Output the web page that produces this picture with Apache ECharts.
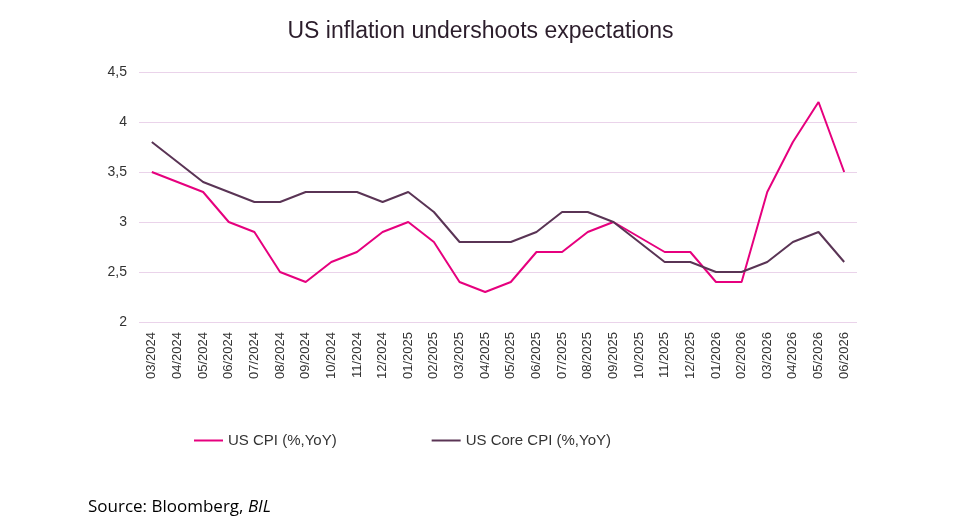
<!DOCTYPE html>
<html>
<head>
<meta charset="utf-8">
<title>US inflation undershoots expectations</title>
<script src="https://cdn.jsdelivr.net/npm/echarts@6/dist/echarts.min.js"></script>
<style>
  html, body { margin: 0; padding: 0; background: #fff; }
  #main { width: 961px; height: 531px; }
</style>
</head>
<body>
<div id="main"></div>
<script>
// months on the x axis
var months = ['03/2024', '04/2024', '05/2024', '06/2024', '07/2024', '08/2024', '09/2024',
  '10/2024', '11/2024', '12/2024', '01/2025', '02/2025', '03/2025', '04/2025', '05/2025',
  '06/2025', '07/2025', '08/2025', '09/2025', '10/2025', '11/2025', '12/2025', '01/2026',
  '02/2026', '03/2026', '04/2026', '05/2026', '06/2026'];

var cpi = [3.5, 3.4, 3.3, 3.0, 2.9, 2.5, 2.4, 2.6, 2.7, 2.9, 3.0, 2.8, 2.4, 2.3, 2.4,
  2.7, 2.7, 2.9, 3.0, 2.85, 2.7, 2.7, 2.4, 2.4, 3.3, 3.8, 4.2, 3.5];

var coreCpi = [3.8, 3.6, 3.4, 3.3, 3.2, 3.2, 3.3, 3.3, 3.3, 3.2, 3.3, 3.1, 2.8, 2.8, 2.8,
  2.9, 3.1, 3.1, 3.0, 2.8, 2.6, 2.6, 2.5, 2.5, 2.6, 2.8, 2.9, 2.6];

var seriesNames = ['US CPI (%,YoY)', 'US Core CPI (%,YoY)'];

var chart = echarts.init(document.getElementById('main'));

var option = {
  animation: false,
  backgroundColor: '#fff',
  title: {
    text: 'US inflation undershoots expectations',
    left: 'center',
    top: 15,
    textStyle: { fontFamily: 'Liberation Sans', fontSize: 23, fontWeight: 'normal', color: '#2b1d2b' }
  },
  legend: {
    top: 428,
    left: 189,
    itemGap: 95,
    itemWidth: 29,
    itemHeight: 2,
    icon: 'rect',
    textStyle: { fontFamily: 'Liberation Sans', fontSize: 15, color: '#333' },
    data: seriesNames
  },
  grid: { left: 139, right: 104, top: 72, bottom: 209, containLabel: false },
  xAxis: {
    type: 'category',
    data: months,
    boundaryGap: true,
    axisLine: { show: false },
    axisTick: { show: false },
    axisLabel: {
      rotate: 90,
      interval: 0,
      margin: 10,
      fontFamily: 'Liberation Sans',
      fontSize: 13,
      color: '#333'
    }
  },
  yAxis: {
    type: 'value',
    min: 2,
    max: 4.5,
    interval: 0.5,
    axisLine: { show: false },
    axisTick: { show: false },
    splitLine: { lineStyle: { color: '#ead3ea', width: 1 } },
    axisLabel: {
      margin: 12,
      fontFamily: 'Liberation Sans',
      fontSize: 14,
      color: '#333',
      formatter: function (v) { return String(v).replace('.', ','); }
    }
  },
  series: [
    {
      name: seriesNames[0],
      type: 'line',
      data: cpi,
      symbol: 'none',
      lineStyle: { color: '#e6007e', width: 2 },
      itemStyle: { color: '#e6007e' }
    },
    {
      name: seriesNames[1],
      type: 'line',
      data: coreCpi,
      symbol: 'none',
      lineStyle: { color: '#5a3455', width: 2 },
      itemStyle: { color: '#5a3455' }
    }
  ],
  graphic: [
    {
      type: 'text',
      left: 88,
      top: 499,
      style: {
        rich: {
          a: { fontFamily: 'Open Sans', fontSize: 17, fill: '#000' },
          b: { fontFamily: 'Open Sans', fontSize: 17, fontStyle: 'italic', fill: '#000' }
        },
        text: '{a|Source: Bloomberg, }{b|BIL}'
      }
    }
  ]
};

chart.setOption(option);
</script>
</body>
</html>
